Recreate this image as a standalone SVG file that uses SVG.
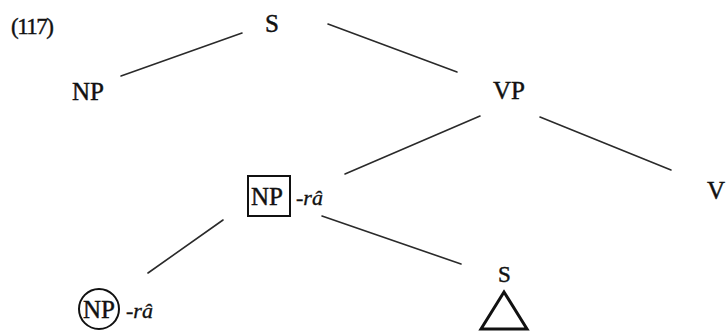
<svg xmlns="http://www.w3.org/2000/svg" width="726" height="331" viewBox="0 0 726 331">
  <style>
    .lbl { font-family: "Liberation Serif", "Times New Roman", serif; font-size: 25px; fill: #111; stroke: #111; stroke-width: 0.45; }
    .num { font-family: "Liberation Serif", "Times New Roman", serif; font-size: 23px; fill: #111; stroke: #111; stroke-width: 0.4; letter-spacing: -1.5px; }
    .suf { font-family: "Liberation Serif", "Times New Roman", serif; font-size: 22px; font-style: italic; fill: #111; stroke: #111; stroke-width: 0.35; }
    .small { font-size: 23px; }
    .edge { stroke: #2a2a2a; stroke-width: 1.6; fill: none; stroke-linecap: round; }
    .mark { stroke: #111; stroke-width: 2; fill: none; }
    .tri { stroke: #111; stroke-width: 3; fill: none; stroke-linejoin: miter; }
  </style>
  <rect width="726" height="331" fill="#ffffff"/>

  <text class="num" x="11" y="34">(117)</text>

  <g id="connectors">
    <line class="edge" x1="242" y1="33" x2="121" y2="76"/>
    <line class="edge" x1="328" y1="24" x2="457" y2="72"/>
    <line class="edge" x1="480" y1="116" x2="345" y2="174"/>
    <line class="edge" x1="540" y1="117" x2="671" y2="170"/>
    <line class="edge" x1="223" y1="220" x2="148" y2="273"/>
    <line class="edge" x1="322" y1="216" x2="461" y2="264"/>
  </g>

  <g id="s-root"><text class="lbl" x="265" y="32">S</text></g>
  <g id="np-subject"><text class="lbl" x="72" y="100">NP</text></g>
  <g id="vp"><text class="lbl" x="493" y="99">VP</text></g>
  <g id="v"><text class="lbl" x="707" y="199">V</text></g>

  <g id="np-boxed">
    <rect class="mark" x="248" y="176" width="42" height="40"/>
    <text class="lbl" x="251" y="205">NP</text>
    <text class="suf" x="296" y="205">-râ</text>
  </g>

  <g id="np-circled">
    <circle class="mark" cx="99" cy="309" r="20"/>
    <text class="lbl" x="83" y="318">NP</text>
    <text class="suf" x="126" y="318">-râ</text>
  </g>

  <g id="s-embedded">
    <text class="lbl small" x="498" y="282">S</text>
    <polygon class="tri" points="504,292 481,329 527,329"/>
  </g>
</svg>
